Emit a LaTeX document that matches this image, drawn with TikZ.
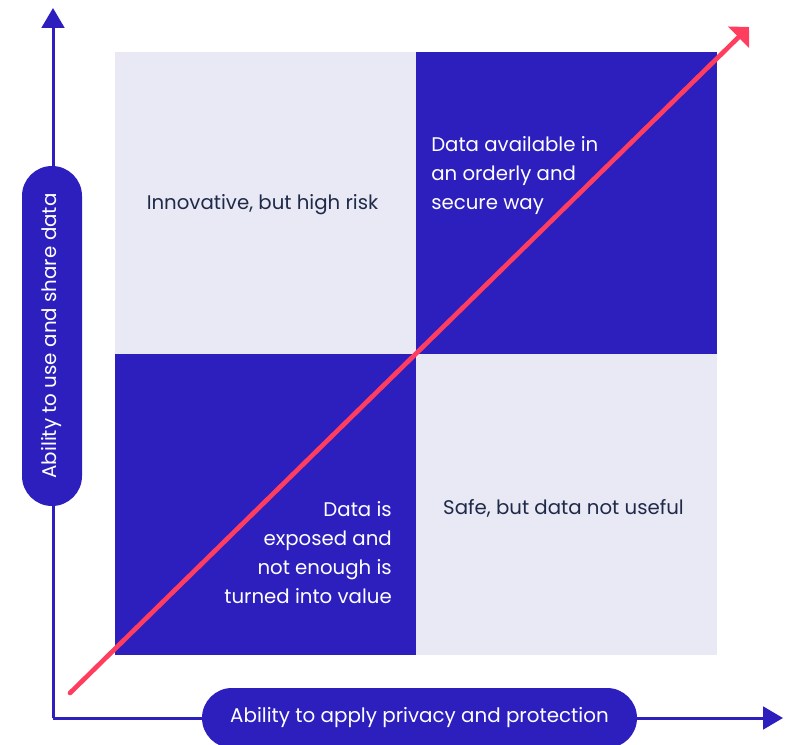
\documentclass[tikz,border=0pt]{standalone}
\usepackage{fontspec}
\setmainfont{Poppins}
\usetikzlibrary{positioning,arrows.meta}
\definecolor{indigo}{HTML}{2D1EBE}
\definecolor{lavender}{HTML}{E9E8F5}
\definecolor{coral}{HTML}{FF3D5E}
\definecolor{navy}{HTML}{1F2A48}

\begin{document}
\begin{tikzpicture}[x=0.75pt,y=-0.75pt,
    cell/.style={minimum width=225.75pt,minimum height=226.1pt,inner sep=0pt,outer sep=0pt},
    txt/.style={font=\fontsize{14.8}{21.75}\selectfont,inner sep=0pt},
    pill/.style={fill=indigo,text=white,rounded corners=22.5pt,minimum height=45pt,inner sep=0pt,font=\fontsize{14.9}{18}\selectfont},
    axis/.style={indigo,line width=2.25pt,-{Triangle[width=17pt,length=15pt]}}]
    \useasboundingbox (0,0) rectangle (789,745);
        % quadrants
        \node[cell,fill=lavender] (tl) at (265,203) {};
        \node[cell,fill=indigo] (tr) at (566,203) {};
        \node[cell,fill=indigo] (bl) at (265,504.5) {};
        \node[cell,fill=lavender] (br) at (566,504.5) {};
        \node[txt,text=navy] (risk) at (262.5,205) {Innovative, but high risk};
        \node[txt,text=white,align=left,anchor=west] (orderly) at (431,176) {Data available in\\an orderly and\\secure way};
        \node[txt,text=white,align=right,anchor=east] (exposed) at (392,552.5) {Data is\\exposed and\\not enough is\\turned into value};
        \node[txt,text=navy] (safe) at (563.5,508) {Safe, but data not useful};
        % axes
        \coordinate (o) at (53,718);
        \coordinate (ytop) at (53,8);
        \coordinate (xend) at (783,718);
        \draw[axis] (o) -- (ytop);
        \draw[axis] (o) -- (xend);
        \node[pill,minimum width=255pt,rotate=90] (ylab) at (52,336) {Ability to use and share data};
        \node[pill,minimum width=326.25pt] (xlab) at (419.5,718) {\raisebox{-2pt}{Ability to apply privacy and protection}};
        % diagonal
        \coordinate (rs) at (70,693);
        \coordinate (re) at (749,27);
        \draw[coral,line width=3.5pt,line cap=round,-{Triangle[width=22pt,length=11pt]}] (rs) -- (re);
    \end{tikzpicture}
\end{document}
